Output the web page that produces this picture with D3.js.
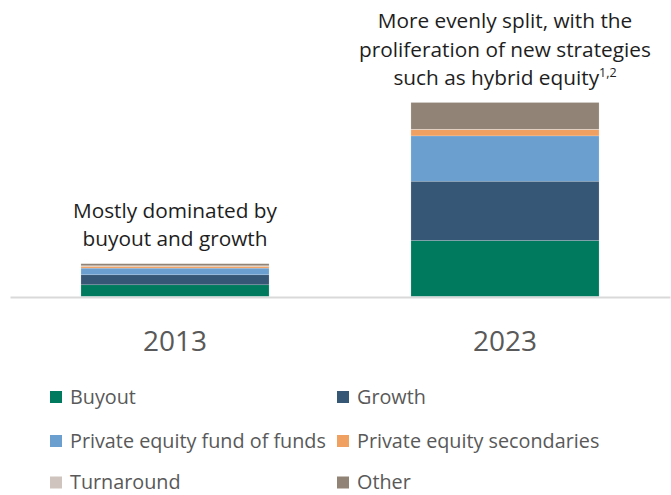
<!DOCTYPE html>
<html>
<head>
<meta charset="utf-8">
<script src="https://cdn.jsdelivr.net/npm/d3@7"></script>
<style>
  html, body { margin: 0; padding: 0; background: #fff; }
  svg { display: block; font-family: "Open Sans", "Noto Sans", sans-serif; }
</style>
</head>
<body>
<svg id="chart" width="671" height="495"></svg>
<script>
// Fundraising mix by strategy, stacked per year (relative units)
const years = ["2013", "2023"];
const strategies = ["Buyout", "Growth", "Private equity fund of funds",
                    "Private equity secondaries", "Turnaround", "Other"];
const buyout      = [11.7, 56];
const growth      = [10.0, 59.3];
const fundOfFunds = [6.7, 45.3];
const secondaries = [1.8, 6.4];
const turnaround  = [0.6, 0.3];
const other       = [2.0, 26.7];
const colors = ["#007a5e", "#365775", "#6a9fd0", "#f0a060", "#cfc5be", "#918476"];
const notes = [
  ["Mostly dominated by", "buyout and growth"],
  ["More evenly split, with the", "proliferation of new strategies", "such as hybrid equity"]
];
const noteSup = ["", "1,2"];

const seriesValues = [buyout, growth, fundOfFunds, secondaries, turnaround, other];
const rows = years.map((y, i) => {
  const r = { year: y };
  strategies.forEach((s, k) => { r[s] = seriesValues[k][i]; });
  return r;
});

const svg = d3.select("#chart");

const x = d3.scaleBand().domain(years).range([10, 670])
  .paddingInner(0.43).paddingOuter(0.215);
const y = d3.scaleLinear().domain([0, 200]).range([296.5, 96.5]);
const color = d3.scaleOrdinal().domain(strategies).range(colors);

const stacked = d3.stack().keys(strategies)(rows);

svg.append("g").selectAll("g")
  .data(stacked).join("g")
  .attr("fill", d => color(d.key))
  .selectAll("rect")
  .data(d => d).join("rect")
  .attr("x", d => x(d.data.year))
  .attr("width", x.bandwidth())
  .attr("y", d => y(d[1]))
  .attr("height", d => y(d[0]) - y(d[1]))
  .attr("stroke", "rgba(255,255,255,0.35)")
  .attr("stroke-width", 0.5);

// baseline axis with category labels
const axis = svg.append("g").attr("transform", "translate(0,297)")
  .call(d3.axisBottom(x).tickSize(0).tickPadding(0).tickSizeOuter(0));
axis.select(".domain").attr("stroke", "#d9d9d9").attr("stroke-width", 2);
axis.selectAll(".tick text")
  .attr("y", 54).attr("dy", 0)
  .attr("font-size", 28)
  .attr("font-family", "'Open Sans', sans-serif")
  .attr("fill", "#595959");

// annotations above each bar
const lineH = 28.5;
years.forEach((yr, i) => {
  const lines = notes[i];
  const top = y(d3.sum(strategies, s => rows[i][s]));
  const lastBase = top - 17.5;
  const t = svg.append("text")
    .attr("text-anchor", "middle")
    .attr("font-size", 20.8)
    .attr("fill", "#1e1e1e");
  lines.forEach((ln, j) => {
    t.append("tspan")
      .attr("x", x(yr) + x.bandwidth() / 2)
      .attr("y", lastBase - (lines.length - 1 - j) * lineH)
      .text(ln);
    if (j === lines.length - 1 && noteSup[i]) {
      t.append("tspan").attr("dy", -8).attr("font-size", 12.5).text(noteSup[i]);
    }
  });
});

// legend: two columns, three rows
const legend = svg.append("g");
const colX = [50, 337];
const rowY = [397, 441, 482.5];
strategies.forEach((s, k) => {
  const g = legend.append("g")
    .attr("transform", `translate(${colX[k % 2]},${rowY[Math.floor(k / 2)]})`);
  g.append("rect").attr("x", 0).attr("y", -6).attr("width", 12).attr("height", 12)
    .attr("fill", color(s));
  g.append("text").attr("x", 20).attr("y", 0).attr("dy", "0.35em")
    .attr("font-size", 19.8).attr("fill", "#595959").text(s);
});
</script>
</body>
</html>
